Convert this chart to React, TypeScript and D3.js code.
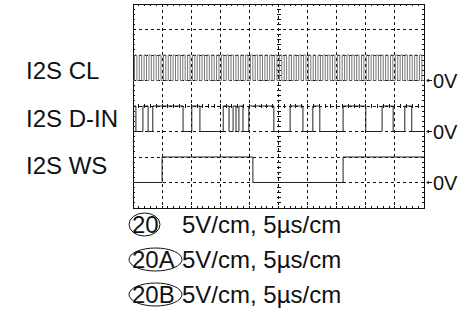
import React from "react";
import * as d3 from "d3";

// time axis: 5us/cm, 10 divisions; volts: 5V/cm, 8 divisions
const timeSpanUs = 50;
const voltsPerDiv = 5;

// trace labels and where each trace's 0V sits (divisions from the top)
const traceNames = ["I2S CL", "I2S D-IN", "I2S WS"];
const zeroDivs = [3, 5, 7];
const highVolts = [5, 5, 5];

// bit clock: period in us, starts low
const clkPeriodUs = 0.83;

// data line edges (us), starts high
const dinEdges = [
  0.5, 1.7, 2.6, 3.4, 8.6, 10.1, 11.5, 15.5, 16.5, 17.2, 17.7, 18.2, 18.9,
  19.9, 24.2, 27.0, 29.2, 30.9, 32.1, 36.1, 40.0, 42.8, 44.7, 46.7, 47.9,
];
const dinStartHigh = true;

// word select edges (us), starts low
const wsEdges = [5.0, 20.6, 36.1];
const wsStartHigh = false;

// legend rows
const legendTags = ["20", "20A", "20B"];
const legendTexts = ["5V/cm, 5\u00b5s/cm", "5V/cm, 5\u00b5s/cm", "5V/cm, 5\u00b5s/cm"];

const FONT = "'Liberation Sans', Arial, sans-serif";

const box = { left: 133, right: 424, top: 4, bottom: 208 };

function edgesToPoints(edges: number[], startHigh: boolean): [number, number][] {
  const pts: [number, number][] = [];
  let level = startHigh ? 1 : 0;
  pts.push([0, level]);
  edges.forEach((t) => {
    pts.push([t, level]);
    level = 1 - level;
    pts.push([t, level]);
  });
  pts.push([timeSpanUs, level]);
  return pts;
}

function clockEdges(): number[] {
  const edges: number[] = [];
  const half = clkPeriodUs / 2;
  for (let t = half * 0.6; t < timeSpanUs; t += half) edges.push(t);
  return edges;
}

const App: React.FC = () => {
  const width = 458;
  const height = 317;

  const x = d3.scaleLinear().domain([0, timeSpanUs]).range([box.left, box.right]);
  const yDiv = d3.scaleLinear().domain([0, 8]).range([box.top, box.bottom]);

  const signals = [
    edgesToPoints(clockEdges(), false),
    edgesToPoints(dinEdges, dinStartHigh),
    edgesToPoints(wsEdges, wsStartHigh),
  ];

  const xDivs = d3.range(0, 11);
  const yDivs = d3.range(0, 9);
  const xMinor = d3.range(0, 50.01, 1);
  const yMinor = d3.range(0, 8.01, 0.2);

  return (
    <svg width={width} height={height} style={{ position: "absolute", left: 0, top: 0 }}>
      <rect width={width} height={height} fill="#fff" />

      {/* grid */}
      <g stroke="#111" strokeWidth={1} shapeRendering="crispEdges">
        {xDivs.slice(1, -1).map((d) => (
          <line key={"vx" + d} x1={x(d * 5)} x2={x(d * 5)} y1={box.top} y2={box.bottom} strokeDasharray="3,3" />
        ))}
        {yDivs.slice(1, -1).map((d) => (
          <line key={"hy" + d} x1={box.left} x2={box.right} y1={yDiv(d)} y2={yDiv(d)} strokeDasharray="3,3" />
        ))}
        <rect x={box.left} y={box.top} width={box.right - box.left} height={box.bottom - box.top} fill="none" />
        {/* minor ticks on border and centre lines */}
        {xMinor.map((t) => (
          <g key={"tx" + t}>
            <line x1={x(t)} x2={x(t)} y1={box.top} y2={box.top + 2} />
            <line x1={x(t)} x2={x(t)} y1={box.bottom - 2} y2={box.bottom} />
            <line x1={x(t)} x2={x(t)} y1={yDiv(4) - 2} y2={yDiv(4) + 2} />
          </g>
        ))}
        {yMinor.map((d) => (
          <g key={"ty" + d}>
            <line x1={box.left} x2={box.left + 2} y1={yDiv(d)} y2={yDiv(d)} />
            <line x1={box.right - 2} x2={box.right} y1={yDiv(d)} y2={yDiv(d)} />
            <line x1={x(25) - 2} x2={x(25) + 2} y1={yDiv(d)} y2={yDiv(d)} />
          </g>
        ))}
      </g>

      {/* traces */}
      {signals.map((pts, i) => {
        const y = (v: number) => yDiv(zeroDivs[i] - (v * highVolts[i]) / voltsPerDiv);
        const line = d3
          .line<[number, number]>()
          .x((d) => x(d[0]))
          .y((d) => y(d[1]));
        return (
          <path
            key={"s" + i}
            d={line(pts) || ""}
            fill="none"
            stroke={i === 0 ? "#666" : "#222"}
            strokeWidth={i === 0 ? 0.9 : 1}
          />
        );
      })}

      {/* trace names */}
      {traceNames.map((name, i) => (
        <text
          key={"n" + i}
          x={26}
          y={79 + i * 47.5}
          fontFamily={FONT}
          fontSize={24}
          fill="#111"
        >
          {name}
        </text>
      ))}

      {/* 0V markers */}
      {zeroDivs.map((zd, i) => {
        const yy = yDiv(zd);
        return (
          <g key={"z" + i}>
            <line x1={428} x2={432} y1={yy} y2={yy} stroke="#111" />
            <path d={`M426,${yy} l3,-1.8 l0,3.6 z`} fill="#111" />
            <text x={433} y={yy} dy="0.36em" fontFamily={FONT} fontSize={20} fill="#111">
              0V
            </text>
          </g>
        );
      })}

      {/* legend */}
      {legendTags.map((tag, i) => {
        const base = 233 + i * 35;
        const rx = tag.length > 2 ? 26.5 : 15.5;
        const cx = 129 + rx;
        return (
          <g key={"l" + i}>
            <ellipse cx={cx} cy={base - 8.5} rx={rx} ry={11.5} fill="none" stroke="#111" strokeWidth={1} />
            <text x={132} y={base} fontFamily={FONT} fontSize={24} fill="#111">
              {tag}
            </text>
            <text x={182} y={base} fontFamily={FONT} fontSize={24} fill="#111">
              {legendTexts[i]}
            </text>
          </g>
        );
      })}
    </svg>
  );
};

export default App;
